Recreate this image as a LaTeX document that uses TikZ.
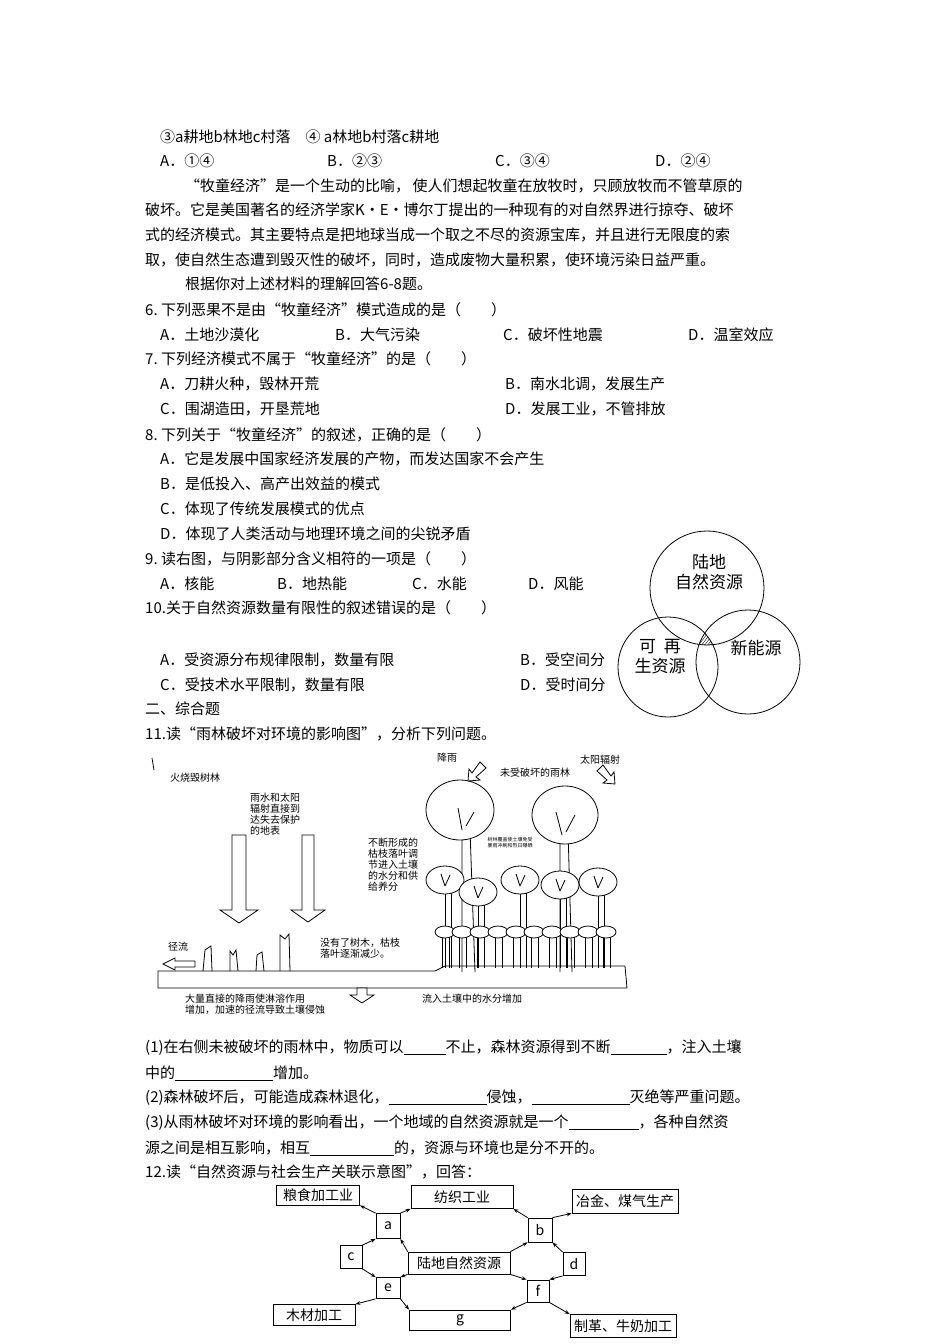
\documentclass[tikz,border=0pt]{standalone}
\usepackage{fontspec}
\setmainfont{Noto Sans CJK SC}
\usetikzlibrary{arrows.meta}
\begin{document}
\begin{tikzpicture}[x=1pt,y=-1pt,
  t/.style={anchor=west,inner sep=0pt,font=\fontsize{15}{17}\selectfont},
  s/.style={align=left,inner sep=0pt,font=\fontsize{10}{11}\selectfont},
  bx/.style={draw,thick,fill=white,font=\fontsize{14}{16}\selectfont,inner sep=0pt},
  ar/.style={-{Stealth[length=5pt]},thick},
  tr/.style={draw,thick,fill=white},
  hollow/.style={draw,thick,fill=white}]
\useasboundingbox (0,0) rectangle (950,1344);
\newcommand{\bl}[1]{\underline{\hspace{#1pt}}}
% text
\node[t] (l1) at (160,137) {③a耕地b林地c村落\quad ④ a林地b村落c耕地};
\node[t] (l2a) at (160,161) {A．①④};
\node[t] (l2b) at (327,161) {B．②③};
\node[t] (l2c) at (495,161) {C．③④};
\node[t] (l2d) at (655,161) {D．②④};
\node[t] (l3) at (185,186) {“牧童经济”是一个生动的比喻，\,使人们想起牧童在放牧时，只顾放牧而不管草原的};
\node[t] (l4) at (145,210) {破坏。它是美国著名的经济学家K·E·博尔丁提出的一种现有的对自然界进行掠夺、破坏};
\node[t] (l5) at (145,235) {式的经济模式。其主要特点是把地球当成一个取之不尽的资源宝库，并且进行无限度的索};
\node[t] (l6) at (145,260) {取，使自然生态遭到毁灭性的破坏，同时，造成废物大量积累，使环境污染日益严重。};
\node[t] (l7) at (185,284) {根据你对上述材料的理解回答6-8题。};
\node[t] (q6) at (145,310) {6.\ 下列恶果不是由“牧童经济”模式造成的是（\qquad）};
\node[t] (q6a) at (160,335) {A．土地沙漠化};
\node[t] (q6b) at (335,335) {B．大气污染};
\node[t] (q6c) at (503,335) {C．破坏性地震};
\node[t] (q6d) at (688,335) {D．温室效应};
\node[t] (q7) at (145,359) {7.\ 下列经济模式不属于“牧童经济”的是（\qquad）};
\node[t] (q7a) at (160,384) {A．刀耕火种，毁林开荒};
\node[t] (q7b) at (505,384) {B．南水北调，发展生产};
\node[t] (q7c) at (160,409) {C．围湖造田，开垦荒地};
\node[t] (q7d) at (505,409) {D．发展工业，不管排放};
\node[t] (q8) at (145,435) {8.\ 下列关于“牧童经济”的叙述，正确的是（\qquad）};
\node[t] (q8a) at (160,459) {A．它是发展中国家经济发展的产物，而发达国家不会产生};
\node[t] (q8b) at (160,484) {B．是低投入、高产出效益的模式};
\node[t] (q8c) at (160,509) {C．体现了传统发展模式的优点};
\node[t] (q8d) at (160,534) {D．体现了人类活动与地理环境之间的尖锐矛盾};
\node[t] (q9) at (145,559) {9.\ 读右图，与阴影部分含义相符的一项是（\qquad）};
\node[t] (q9a) at (160,584) {A．核能};
\node[t] (q9b) at (277,584) {B．地热能};
\node[t] (q9c) at (412,584) {C．水能};
\node[t] (q9d) at (528,584) {D．风能};
\node[t] (q10) at (145,608) {10.关于自然资源数量有限性的叙述错误的是（\qquad）};
\node[t] (q10a) at (160,660) {A．受资源分布规律限制，数量有限};
\node[t] (q10b) at (520,660) {B．受空间分};
\node[t] (q10c) at (160,685) {C．受技术水平限制，数量有限};
\node[t] (q10d) at (520,685) {D．受时间分};
\node[t] (s2) at (145,709) {二、综合题};
\node[t] (q11) at (145,734) {11.读“雨林破坏对环境的影响图”，分析下列问题。};
\node[t] (a1) at (145,1048) {(1)在右侧未被破坏的雨林中，物质可以\bl{42}不止，森林资源得到不断\bl{56}，注入土壤};
\node[t] (a1b) at (145,1073) {中的\bl{98}增加。};
\node[t] (a2) at (145,1098) {(2)森林破坏后，可能造成森林退化，\bl{98}侵蚀，\bl{98}灭绝等严重问题。};
\node[t] (a3) at (145,1123) {(3)从雨林破坏对环境的影响看出，一个地域的自然资源就是一个\bl{70}，各种自然资};
\node[t] (a3b) at (145,1148) {源之间是相互影响，相互\bl{84}的，资源与环境也是分不开的。};
\node[t] (q12) at (145,1172) {12.读“自然资源与社会生产关联示意图”，回答：};
% Venn
\draw[thick] (707,588) circle (57);
\draw[thick] (668,667) circle (50);
\draw[thick] (748,662) circle (52);
\begin{scope}
\clip (707,588) circle (57);
\clip (668,667) circle (50);
\clip (748,662) circle (52);
\foreach \i in {0,3,...,60} \draw[thin] (680+\i,610) -- (680+\i-30,650);
\end{scope}
\node[s,font=\fontsize{17}{20}\selectfont,align=center] (v1) at (709,572) {陆地\\自然资源};
\node[s,font=\fontsize{17}{20}\selectfont,align=center] (v2) at (660,657) {可\hspace{8pt}再\\生资源};
\node[s,font=\fontsize{17}{20}\selectfont] (v3) at (756,648) {新能源};
% rainforest diagram
\draw[thick] (152,758) -- (154,770);
\node[s] (fire) at (195,778) {火烧毁树林};
\node[s] (rs) at (275,814) {雨水和太阳\\辐射直接到\\达失去保护\\的地表};
\node[s] (rain) at (447,758) {降雨};
\node[s] (sun) at (600,760) {太阳辐射};
\node[s] (undes) at (535,773) {未受破坏的雨林};
\node[s] (lit) at (393,865) {不断形成的\\枯枝落叶调\\节进入土壤\\的水分和供\\给养分};
% ground
\draw[thick,fill=white] (158,971) -- (435,971) -- (445,966) -- (625,966) -- (627,988) -- (158,988) -- cycle;
% big arrows
\draw[hollow] (232,835) -- (246,835) -- (246,910) -- (258,910) -- (239,923) -- (220,910) -- (232,910) -- cycle;
\draw[hollow] (302,835) -- (314,835) -- (314,910) -- (325,910) -- (308,922) -- (291,910) -- (302,910) -- cycle;
% stumps
\draw[thick] (203,971) -- (205,950) -- (211,946) -- (212,971);
\draw[thick] (230,971) -- (230,951) -- (233,955) -- (236,950) -- (238,971);
\draw[thick] (256,971) -- (257,955) -- (262,952) -- (264,971);
\draw[thick] (280,971) -- (280,935) -- (285,939) -- (289,934) -- (290,971);
% left runoff arrow
\node[s] (run) at (178,947) {径流};
\draw[hollow] (195,961) -- (175,961) -- (175,958) -- (163,964) -- (175,970) -- (175,967) -- (195,967) -- cycle;
% small down arrow
\draw[hollow] (357,988) -- (367,988) -- (367,995) -- (374,995) -- (362,1003) -- (350,995) -- (357,995) -- cycle;
\node[s] (erode) at (255,1004) {大量直接的降雨使淋溶作用\\增加，加速的径流导致土壤侵蚀};
\node[s] (inflow) at (472,999) {流入土壤中的水分增加};
\node[s] (nolit) at (360,948) {没有了树木，枯枝\\落叶逐渐减少。};
% trees
\draw[thick] (462,972) -- (462,820) (475,972) -- (470,830);
\draw[thick] (560,972) -- (560,830) (572,972) -- (568,830);
\draw[tr] (460,810) ellipse (34 and 30);
\draw[tr] (565,815) ellipse (33 and 29);
\draw[thick] (462,830)--(458,808) (466,826)--(474,812) (562,835)--(556,812) (566,832)--(575,815);
\node[s,font=\fontsize{5}{6}\selectfont] (note) at (510,843) {树林覆盖使土壤免受\\暴雨冲刷和烈日曝晒};
\foreach \x/\y in {445/880,478/892,520/880,560/885,598/882} {
  \draw[thick] (\x,\y) -- (\x,968) (\x+6,\y) -- (\x+6,968);
  \draw[tr] (\x,\y) ellipse (19 and 14);
  \draw[thick] (\x,\y+6) -- (\x-4,\y-6) (\x,\y+6) -- (\x+5,\y-5);}
\foreach \x in {445,462,480,498,516,534,552,570,588,606} {
  \draw[thick] (\x-3,935) -- (\x-3,968) (\x+4,935) -- (\x+4,968);
  \draw[tr] (\x,932) ellipse (10 and 6);}
% rain & sun arrows
\draw[hollow] (480,762) -- (486,768) -- (476,777) -- (480,780) -- (468,781) -- (469,769) -- (472,773) -- cycle;
\draw[hollow] (603,765) -- (597,771) -- (607,780) -- (603,783) -- (615,784) -- (614,772) -- (611,776) -- cycle;
% resource diagram
\node[bx,minimum width=83pt,minimum height=20pt] (grain) at (318,1195) {粮食加工业};
\node[bx,minimum width=102pt,minimum height=23pt] (text) at (462,1197) {纺织工业};
\node[bx,minimum width=106pt,minimum height=24pt] (metal) at (625,1201) {冶金、煤气生产};
\node[bx,minimum width=24pt,minimum height=25pt] (a) at (388,1226) {a};
\node[bx,minimum width=24pt,minimum height=24pt] (b) at (540,1230) {b};
\node[bx,minimum width=22pt,minimum height=23pt] (c) at (351,1257) {c};
\node[bx,minimum width=102pt,minimum height=22pt] (land) at (459,1263) {陆地自然资源};
\node[bx,minimum width=22pt,minimum height=23pt] (d) at (574,1264) {d};
\node[bx,minimum width=24pt,minimum height=21pt] (e) at (388,1288) {e};
\node[bx,minimum width=22pt,minimum height=22pt] (f) at (538,1291) {f};
\node[bx,minimum width=82pt,minimum height=21pt] (wood) at (314,1315) {木材加工};
\node[bx,minimum width=101pt,minimum height=20pt] (g) at (460,1320) {g};
\node[bx,minimum width=106pt,minimum height=23pt] (leather) at (623,1326) {制革、牛奶加工};
\draw[ar] (a.north west) -- (grain.south east);
\draw[ar] (a.north east) -- (text.south west);
\draw[ar] (c.north east) -- (a.south west);
\draw[ar] (land.north west) -- (a.south east);
\draw[ar] (c.south east) -- (e.north west);
\draw[ar] (land.south west) -- (e.north east);
\draw[ar] (e.south west) -- (wood.north east);
\draw[ar] (e.south east) -- (g.north west);
\draw[ar] (b.north west) -- (text.south east);
\draw[ar] (b.north east) -- (metal.south west);
\draw[ar] (land.north east) -- (b.south west);
\draw[ar] (d.north west) -- (b.south east);
\draw[ar] (land.south east) -- (f.north west);
\draw[ar] (d.south west) -- (f.north east);
\draw[ar] (f.south west) -- (g.north east);
\draw[ar] (f.south east) -- (leather.north west);
\end{tikzpicture}
\end{document}
